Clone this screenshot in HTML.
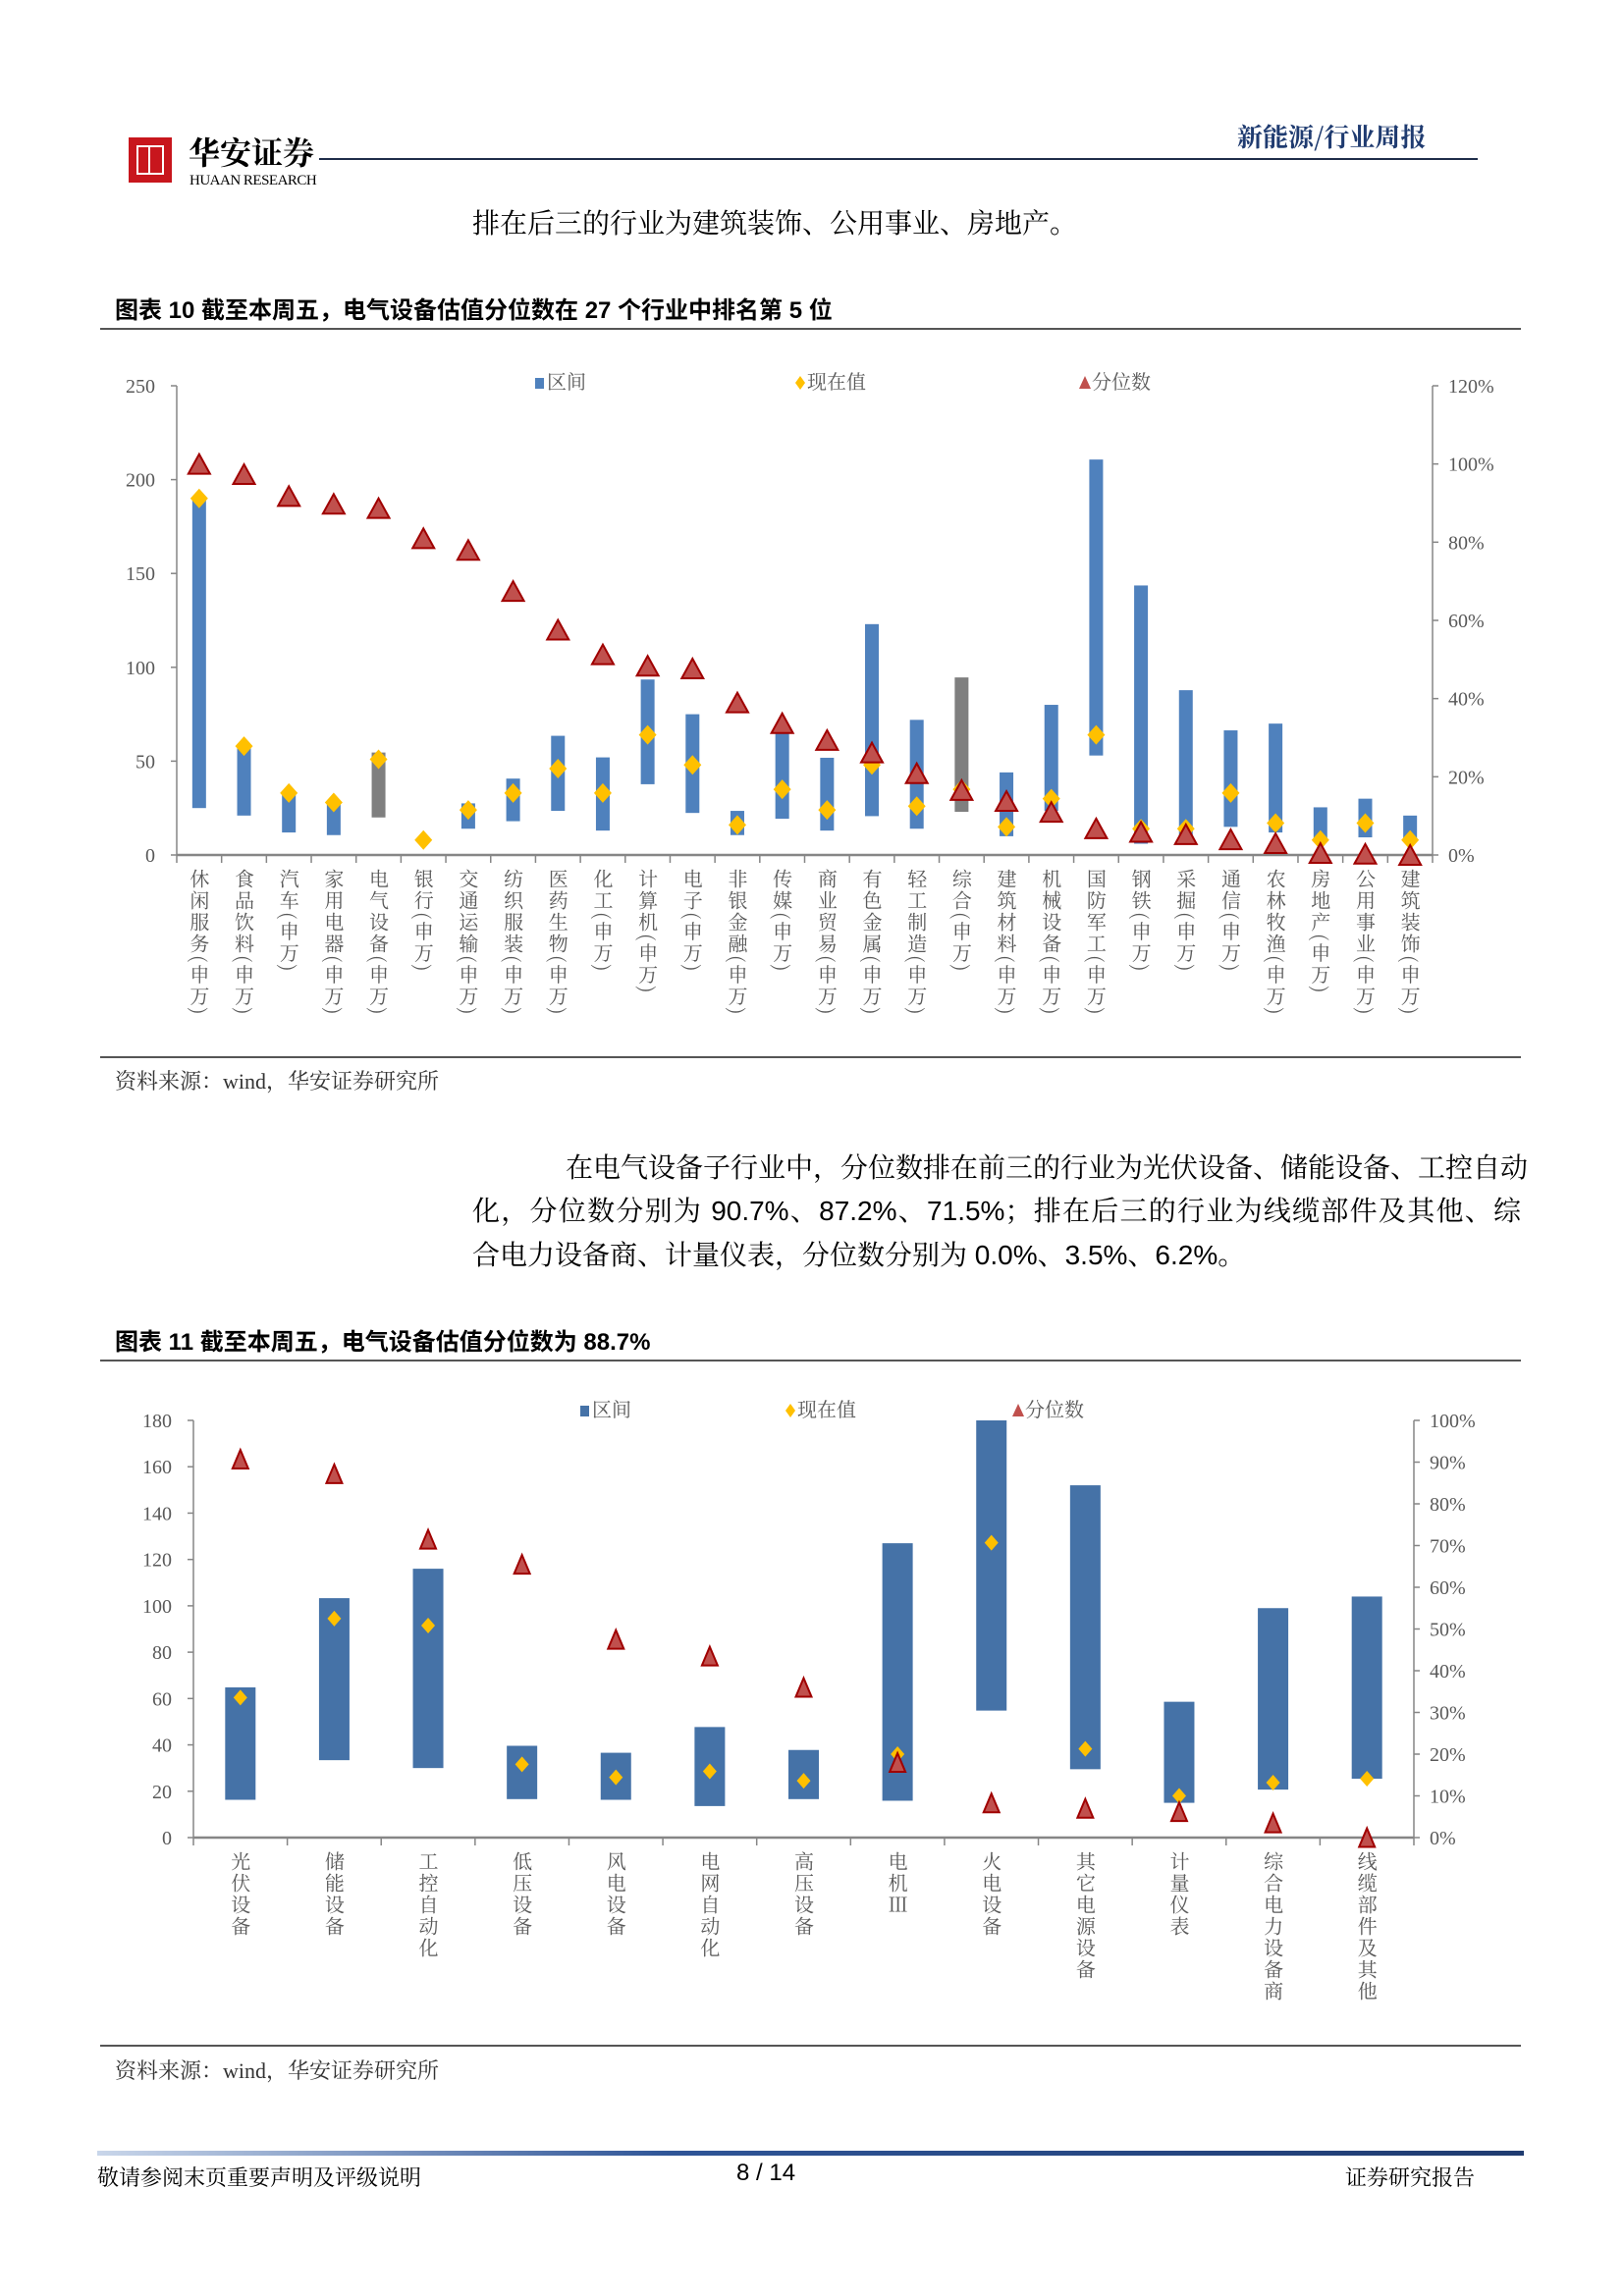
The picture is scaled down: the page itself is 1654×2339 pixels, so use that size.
<!DOCTYPE html>
<html><head><meta charset="utf-8">
<style>
body{margin:0;background:#fff;}
#page{position:relative;width:1654px;height:2339px;overflow:hidden;background:#fff;font-family:"Liberation Serif","Noto Serif CJK SC",serif;color:#000;}
.abs{position:absolute;white-space:nowrap;}
.title{font-family:"Liberation Sans","Noto Sans CJK SC",sans-serif;font-weight:bold;font-size:24px;}
.body{font-family:"Liberation Sans","Noto Serif CJK SC",serif;font-size:28px;}
.just{text-align:justify;text-align-last:justify;}
.src{font-size:22px;color:#333;}
.vlab{position:absolute;writing-mode:vertical-rl;font-family:"Noto Serif CJK SC",serif;font-size:20px;color:#595959;line-height:20px;letter-spacing:2px;}
svg text{font-family:"Liberation Serif","Noto Serif CJK SC",serif;}
</style></head><body>
<div id="page">
  <div class="abs" style="left:131px;top:140px;width:44px;height:46px;background:#c8161d;"><div style="position:absolute;left:8px;top:8px;width:24px;height:26px;border:2px solid #fff;"></div><div style="position:absolute;left:20px;top:8px;width:2px;height:30px;background:#fff;"></div></div>
  <div class="abs" style="left:192px;top:136px;font-family:'Noto Serif CJK SC',serif;font-size:32px;font-weight:bold;line-height:36px;">华安证券</div>
  <div class="abs" style="left:193px;top:176px;font-size:15px;letter-spacing:-0.5px;">HUAAN RESEARCH</div>
  <div class="abs" style="left:325px;top:161px;width:1180px;height:2px;background:#1f2d4a;"></div>
  <div class="abs" style="left:1260px;top:120px;font-family:'Noto Serif CJK SC',serif;font-size:26px;font-weight:bold;color:#1f3b70;">新能源/行业周报</div>
  <div class="abs body" style="left:481px;top:206px;">排在后三的行业为建筑装饰、公用事业、房地产。</div>

  <div class="abs title" style="left:117px;top:296px;">图表 10 截至本周五，电气设备估值分位数在 27 个行业中排名第 5 位</div>
  <div class="abs" style="left:102px;top:334px;width:1447px;height:2px;background:#555;"></div>
  <div class="abs" style="left:102px;top:1076px;width:1447px;height:2px;background:#555;"></div>
  <div class="abs src" style="left:117px;top:1085px;">资料来源：wind，华安证券研究所</div>

  <div class="abs body just" style="left:576px;top:1168px;width:973px;">在电气设备子行业中，分位数排在前三的行业为光伏设备、储能设备、工控自动</div>
  <div class="abs body just" style="left:481px;top:1212px;width:1068px;">化，分位数分别为 90.7%、87.2%、71.5%；排在后三的行业为线缆部件及其他、综</div>
  <div class="abs body" style="left:481px;top:1257px;">合电力设备商、计量仪表，分位数分别为 0.0%、3.5%、6.2%。</div>

  <div class="abs title" style="left:117px;top:1347px;">图表 11 截至本周五，电气设备估值分位数为 88.7%</div>
  <div class="abs" style="left:102px;top:1385px;width:1447px;height:2px;background:#555;"></div>
  <div class="abs" style="left:102px;top:2083px;width:1447px;height:2px;background:#555;"></div>
  <div class="abs src" style="left:117px;top:2093px;">资料来源：wind，华安证券研究所</div>

  <div class="abs" style="left:99px;top:2191px;width:1453px;height:5px;background:linear-gradient(90deg,#c9d6ea,#2f5597 40%,#1f3b70);"></div>
  <div class="abs" style="left:99px;top:2202px;font-family:'Noto Serif CJK SC',serif;font-size:22px;">敬请参阅末页重要声明及评级说明</div>
  <div class="abs" style="left:750px;top:2200px;font-family:'Liberation Sans',sans-serif;font-size:24px;">8 / 14</div>
  <div class="abs" style="left:1370px;top:2202px;font-family:'Noto Serif CJK SC',serif;font-size:22px;">证券研究报告</div>

  <svg id="chart1" class="abs" style="left:0;top:0;" width="1654" height="1080"></svg>
  <svg id="chart2" class="abs" style="left:0;top:0;" width="1654" height="2090"></svg>
</div>
<script>
// ---- Chart 1 data ----
const cats1 = ["休闲服务(申万)","食品饮料(申万)","汽车(申万)","家用电器(申万)","电气设备(申万)","银行(申万)","交通运输(申万)","纺织服装(申万)","医药生物(申万)","化工(申万)","计算机(申万)","电子(申万)","非银金融(申万)","传媒(申万)","商业贸易(申万)","有色金属(申万)","轻工制造(申万)","综合(申万)","建筑材料(申万)","机械设备(申万)","国防军工(申万)","钢铁(申万)","采掘(申万)","通信(申万)","农林牧渔(申万)","房地产(申万)","公用事业(申万)","建筑装饰(申万)"];
const low1 = [25,21,12,10.6,20,null,14,18,23.5,13,37.7,22.4,10.6,19.3,13,20.7,14,23,10,23.5,53,6,9,15,12,7,9.4,7];
const high1 = [190,57.7,34,28,54.6,null,27.5,40.7,63.5,52,93.5,75,23.5,64.7,51.8,123,72,94.6,44,80,210.7,143.6,87.8,66.4,70,25.4,30,21];
const cur1 = [190,58,33,28,51,8,24,33,46,33,64,48,16,35,24,48,26,35,15,30,64,14,14,33,17,8,17,8];
const pct1 = [100,97.4,91.8,89.8,88.7,81,78,67.5,57.6,51.3,48.4,47.7,39,33.7,29.4,26.2,20.9,16.6,13.8,11,6.8,5.9,5.3,4,3,0.5,0.3,0];
const gray1 = [4,17];
const ticksL1 = [0,50,100,150,200,250];
const ticksR1 = [0,20,40,60,80,100,120];
// ---- Chart 2 data ----
const cats2 = ["光伏设备","储能设备","工控自动化","低压设备","风电设备","电网自动化","高压设备","电机Ⅲ","火电设备","其它电源设备","计量仪表","综合电力设备商","线缆部件及其他"];
const low2 = [16.3,33.4,30,16.6,16.3,13.6,16.6,15.9,54.8,29.5,15,20.7,25.4];
const high2 = [64.8,103.3,116,39.6,36.6,47.7,37.8,127,185,152,58.6,99,104];
const cur2 = [60.4,94.5,91.5,31.6,26,28.6,24.5,36,127.2,38.3,18,23.7,25.4];
const pct2 = [90.7,87.2,71.5,65.5,47.5,43.5,36,18,8.3,7,6.2,3.5,0];
const ticksL2 = [0,20,40,60,80,100,120,140,160,180];
const ticksR2 = [0,10,20,30,40,50,60,70,80,90,100];

const NS="http://www.w3.org/2000/svg";
function mk(parent,tag,attrs){const e=document.createElementNS(NS,tag);for(const k in attrs)e.setAttribute(k,attrs[k]);parent.appendChild(e);return e;}

function draw(svg,o){
  const yL=v=>o.y0-(v/o.maxL)*(o.y0-o.yTop);
  const yR=v=>o.y0-(v/o.maxR)*(o.y0-o.yTop);
  const n=o.cats.length, bw=(o.x1-o.x0)/n;
  const xc=i=>o.x0+bw*(i+0.5);
  let ax=mk(svg,'line',{x1:o.x0,y1:o.yTop,x2:o.x0,y2:o.y0,stroke:'#868686','stroke-width':1.5});
  
  ax=mk(svg,'line',{x1:o.x1,y1:o.yTop,x2:o.x1,y2:o.y0,stroke:'#868686','stroke-width':1.5});
  
  o.ticksL.forEach(t=>{
    const y=yL(t);
    mk(svg,'line',{x1:o.x0-6,y1:y,x2:o.x0,y2:y,stroke:'#868686','stroke-width':1.5});
    const tx=mk(svg,'text',{x:o.x0-22,y:y+7,'text-anchor':'end','font-size':20,fill:'#595959'});tx.textContent=t;
    
  });
  o.ticksR.forEach(t=>{
    const y=yR(t);
    mk(svg,'line',{x1:o.x1,y1:y,x2:o.x1+6,y2:y,stroke:'#868686','stroke-width':1.5});
    const tx=mk(svg,'text',{x:o.x1+16,y:y+7,'font-size':20,fill:'#595959'});tx.textContent=t+'%';
    
  });
  for(let i=0;i<=n;i++){const x=o.x0+bw*i;mk(svg,'line',{x1:x,y1:o.y0,x2:x,y2:o.y0+8,stroke:'#868686','stroke-width':1.5});}
  o.cats.forEach((c,i)=>{
    if(o.low[i]==null)return;
    const hi=Math.min(o.high[i],o.maxL);
    const r=mk(svg,'rect',{x:xc(i)-o.barW/2,y:yL(hi),width:o.barW,height:yL(o.low[i])-yL(hi),fill:(o.gray&&o.gray.includes(i))?'#7f7f7f':o.barColor});
    
  });
  ax=mk(svg,'line',{x1:o.x0,y1:o.y0,x2:o.x1,y2:o.y0,stroke:'#868686','stroke-width':2.5});
  
  o.cats.forEach((c,i)=>{
    const x=xc(i),y=yL(o.cur[i]),w=o.dW,h=o.dH;
    const d=mk(svg,'polygon',{points:`${x},${y-h} ${x+w},${y} ${x},${y+h} ${x-w},${y}`,fill:'#ffc000'});
    
  });
  o.cats.forEach((c,i)=>{
    const x=xc(i),y=yR(o.pct[i]),w=o.tW,h=o.tH;
    const t=mk(svg,'polygon',{points:`${x},${y-h/2} ${x+w/2},${y+h/2} ${x-w/2},${y+h/2}`,fill:'#c0504d',stroke:'#a00000','stroke-width':2});
    
  });
  const page=document.getElementById('page');
  o.cats.forEach((c,i)=>{
    const d=document.createElement('div');d.className='vlab';d.textContent=c;
    d.style.left=(xc(i)-10)+'px';d.style.top=(o.y0+14)+'px';
    
    
    page.appendChild(d);
  });
  const L=o.legend;
  let g=mk(svg,'rect',{x:L[0]-12,y:L[3]-11,width:9,height:11,fill:o.barColor});
  
  let tx=mk(svg,'text',{x:L[0],y:L[3],'font-size':20,fill:'#595959'});tx.textContent='区间';
  
  g=mk(svg,'polygon',{points:`${L[1]-7},${L[3]-13} ${L[1]-2},${L[3]-6} ${L[1]-7},${L[3]+1} ${L[1]-12},${L[3]-6}`,fill:'#ffc000'});
  
  tx=mk(svg,'text',{x:L[1],y:L[3],'font-size':20,fill:'#595959'});tx.textContent='现在值';
  
  g=mk(svg,'polygon',{points:`${L[2]-7},${L[3]-13} ${L[2]-1},${L[3]} ${L[2]-13},${L[3]}`,fill:'#c0504d'});
  
  tx=mk(svg,'text',{x:L[2],y:L[3],'font-size':20,fill:'#595959'});tx.textContent='分位数';
  
}
draw(document.getElementById('chart1'),{cats:cats1,low:low1,high:high1,cur:cur1,pct:pct1,gray:gray1,ticksL:ticksL1,ticksR:ticksR1,
  x0:180,x1:1459,yTop:393,y0:871,maxL:250,maxR:120,barW:14,barColor:'#4f81bd',dW:9,dH:10,tW:22,tH:20,legend:[557,822,1112,396]});
draw(document.getElementById('chart2'),{cats:cats2,low:low2,high:high2,cur:cur2,pct:pct2,ticksL:ticksL2,ticksR:ticksR2,
  x0:197,x1:1440,yTop:1447,y0:1872,maxL:180,maxR:100,barW:31,barColor:'#4572a7',dW:7,dH:8,tW:16,tH:19,legend:[603,812,1044,1443]});
</script>
</body></html>
